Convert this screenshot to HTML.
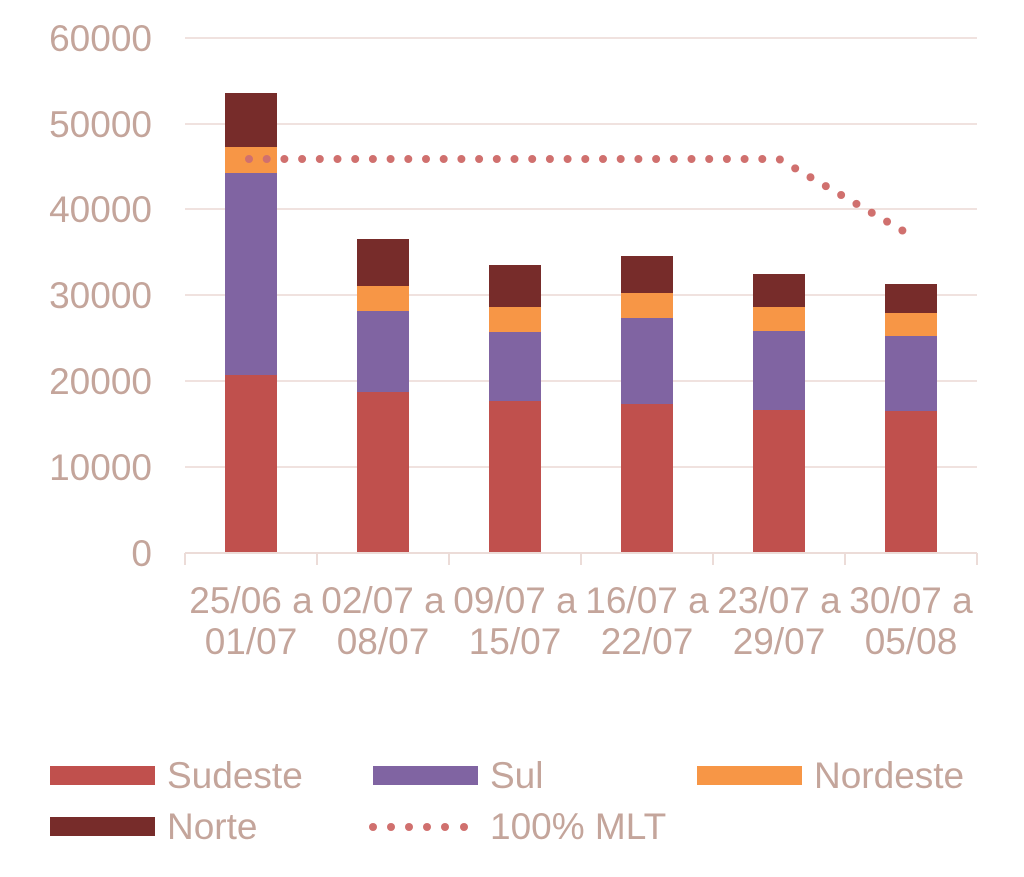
<!DOCTYPE html>
<html><head><meta charset="utf-8"><style>
html,body{margin:0;padding:0;background:#fff;}
svg{display:block;}
text{font-family:"Liberation Sans",sans-serif;fill:#c4a59b;}
</style></head><body>
<svg width="1024" height="877" viewBox="0 0 1024 877">
<g stroke="#f0e2df" stroke-width="2">
<line x1="185" y1="38" x2="977" y2="38"/>
<line x1="185" y1="124" x2="977" y2="124"/>
<line x1="185" y1="209" x2="977" y2="209"/>
<line x1="185" y1="295" x2="977" y2="295"/>
<line x1="185" y1="381" x2="977" y2="381"/>
<line x1="185" y1="467" x2="977" y2="467"/>
</g>
<g font-size="37" text-anchor="end">
<text x="152" y="51">60000</text>
<text x="152" y="137">50000</text>
<text x="152" y="222">40000</text>
<text x="152" y="308">30000</text>
<text x="152" y="394">20000</text>
<text x="152" y="480">10000</text>
<text x="152" y="566">0</text>
</g>
<g>
<rect x="225" y="375" width="52" height="178" fill="#c0504d"/>
<rect x="225" y="173" width="52" height="202" fill="#8064a2"/>
<rect x="225" y="147" width="52" height="26" fill="#f79646"/>
<rect x="225" y="93" width="52" height="54" fill="#772c2a"/>
<rect x="357" y="392" width="52" height="161" fill="#c0504d"/>
<rect x="357" y="311" width="52" height="81" fill="#8064a2"/>
<rect x="357" y="286" width="52" height="25" fill="#f79646"/>
<rect x="357" y="239" width="52" height="47" fill="#772c2a"/>
<rect x="489" y="401" width="52" height="152" fill="#c0504d"/>
<rect x="489" y="332" width="52" height="69" fill="#8064a2"/>
<rect x="489" y="307" width="52" height="25" fill="#f79646"/>
<rect x="489" y="265" width="52" height="42" fill="#772c2a"/>
<rect x="621" y="404" width="52" height="149" fill="#c0504d"/>
<rect x="621" y="318" width="52" height="86" fill="#8064a2"/>
<rect x="621" y="293" width="52" height="25" fill="#f79646"/>
<rect x="621" y="256" width="52" height="37" fill="#772c2a"/>
<rect x="753" y="410" width="52" height="143" fill="#c0504d"/>
<rect x="753" y="331" width="52" height="79" fill="#8064a2"/>
<rect x="753" y="307" width="52" height="24" fill="#f79646"/>
<rect x="753" y="274" width="52" height="33" fill="#772c2a"/>
<rect x="885" y="411" width="52" height="142" fill="#c0504d"/>
<rect x="885" y="336" width="52" height="75" fill="#8064a2"/>
<rect x="885" y="313" width="52" height="23" fill="#f79646"/>
<rect x="885" y="284" width="52" height="29" fill="#772c2a"/>
</g>
<polyline points="249,159 779,159 905,232" fill="none" stroke="#d0706e" stroke-width="8" stroke-linecap="round" stroke-dasharray="0 17.7"/>
<g stroke="#ecdcd8" stroke-width="2" fill="none">
<line x1="185" y1="553" x2="977" y2="553"/>
<line x1="185" y1="553" x2="185" y2="565"/>
<line x1="317" y1="553" x2="317" y2="565"/>
<line x1="449" y1="553" x2="449" y2="565"/>
<line x1="581" y1="553" x2="581" y2="565"/>
<line x1="713" y1="553" x2="713" y2="565"/>
<line x1="845" y1="553" x2="845" y2="565"/>
<line x1="977" y1="553" x2="977" y2="565"/>
</g>
<g font-size="37" text-anchor="middle">
<text x="251" y="613">25/06 a</text><text x="251" y="654">01/07</text>
<text x="383" y="613">02/07 a</text><text x="383" y="654">08/07</text>
<text x="515" y="613">09/07 a</text><text x="515" y="654">15/07</text>
<text x="647" y="613">16/07 a</text><text x="647" y="654">22/07</text>
<text x="779" y="613">23/07 a</text><text x="779" y="654">29/07</text>
<text x="911" y="613">30/07 a</text><text x="911" y="654">05/08</text>
</g>
<rect x="50" y="766" width="105" height="19" fill="#c0504d"/>
<rect x="373" y="766" width="105" height="19" fill="#8064a2"/>
<rect x="697" y="766" width="105" height="19" fill="#f79646"/>
<rect x="50" y="817" width="105" height="19" fill="#772c2a"/>
<g fill="#d0706e">
<circle cx="373" cy="827" r="4"/><circle cx="391" cy="827" r="4"/><circle cx="409" cy="827" r="4"/>
<circle cx="427" cy="827" r="4"/><circle cx="445" cy="827" r="4"/><circle cx="464" cy="827" r="4"/>
</g>
<g font-size="37">
<text x="167" y="788">Sudeste</text>
<text x="490" y="788">Sul</text>
<text x="814" y="788">Nordeste</text>
<text x="167" y="839">Norte</text>
<text x="490" y="839">100% MLT</text>
</g>
</svg>
</body></html>
